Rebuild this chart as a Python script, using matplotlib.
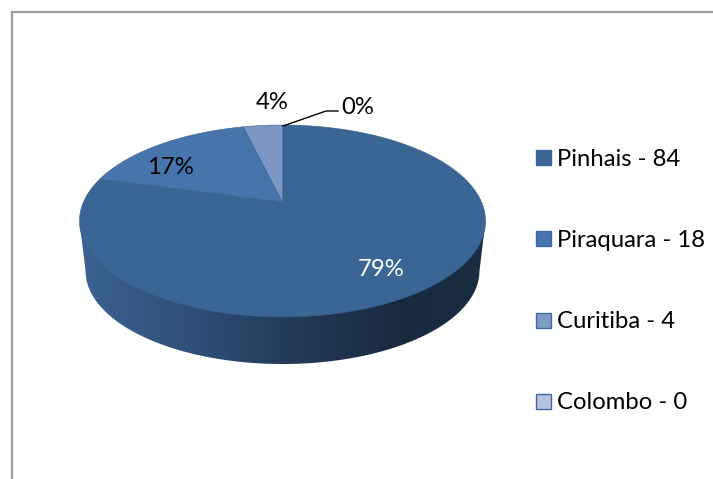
#Grafico de pizza 3D: Pinhais, Piraquara, Curitiba, Colombo

import numpy             as np
import matplotlib.pyplot as plt
from matplotlib.patches  import Polygon, Rectangle
from matplotlib.colors   import LinearSegmentedColormap

plt.rcParams['font.family'] = ['Lato', 'DejaVu Sans']

#Datos

cidades = ['Pinhais', 'Piraquara', 'Curitiba', 'Colombo']
valores = [84, 18, 4, 0]

cores_topo    = ['#3B6594', '#4774AC', '#7C97C3', '#B4C3DE']
cores_legenda = ['#3B6594', '#4774AC', '#7F9AC6', '#B4C3DE']

#Funciones de la perspectiva

K = 0.198
AX, AY = 199., 92.2
CX, CY = 282.5, 202.
PROF = 50.5
ESC_BASE = 0.97

def Proyecta(t, cy=CY, esc=1.):
    #t: angulo medido desde arriba en sentido horario
    x, y = np.sin(t), np.cos(t)
    w = 1 + K*y
    return CX + esc*AX*x/w, cy - esc*AY*y/w

fig = plt.figure(figsize=(7.13, 4.79), dpi=100)
ax = fig.add_axes([0, 0, 1, 1])
ax.set_xlim(0, 713)
ax.set_ylim(479, 0)
ax.axis('off')

#Marco

ax.plot([11.5, 11.5, 713], [479, 11.5, 11.5], color='#9A9A9A', linewidth=1.6, solid_joinstyle='miter')

#Lateral con degradado

t = np.linspace(0, 2*np.pi, 721)
xt, yt = Proyecta(t)
xb, yb = Proyecta(t, CY + PROF, ESC_BASE)

iz_t, de_t = np.argmin(xt), np.argmax(xt)
iz_b, de_b = np.argmin(xb), np.argmax(xb)

x_lat = np.r_[xt[de_t], xb[de_b:iz_b+1], xt[iz_t], xt[de_t]]
y_lat = np.r_[yt[de_t], yb[de_b:iz_b+1], yt[iz_t], yt[de_t]]
lateral = Polygon(np.c_[x_lat, y_lat], closed=True, facecolor='none', edgecolor='none')
ax.add_patch(lateral)

cmap = LinearSegmentedColormap.from_list('lateral', [
    (0.00, '#3B6291'), (0.28, '#2F4F78'), (0.50, '#243C5B'),
    (0.80, '#182A3F'), (1.00, '#1A2D43')])
grad = np.linspace(0, 1, 256).reshape(1, -1)
im = ax.imshow(grad, cmap=cmap, extent=[80, 487, 370, 200], aspect='auto', zorder=2)
im.set_clip_path(lateral)
ax.set_xlim(0, 713)
ax.set_ylim(479, 0)

#Cara superior

total = sum(valores)
acum = 0
for v, c in zip(valores, cores_topo):
    if v > 0:
        t0 = 2*np.pi*acum/total
        t1 = 2*np.pi*(acum + v)/total
        tt = np.linspace(t0, t1, 400)
        xw, yw = Proyecta(tt)
        pts = np.r_[[[CX, CY]], np.c_[xw, yw]]
        ax.add_patch(Polygon(pts, closed=True, facecolor=c, edgecolor='#3A5F8C', linewidth=0.4, zorder=3))
    acum += v

#Etiquetas de porcentaje

pct = ['%d%%' % round(100*v/total) for v in valores]
pos_pct = [(381, 269.5), (170, 167), (272.5, 102), (358, 107)]
cor_pct = ['white', 'black', 'black', 'black']
for s, p, c in zip(pct, pos_pct, cor_pct):
    ax.text(p[0], p[1], s, color=c, fontsize=17.2, ha='center', va='center', zorder=5)

ax.plot([283, 326, 338], [126, 111, 111], color='black', linewidth=1.0, zorder=4)

#Leyenda

ys_leg = [157.5, 238.5, 320, 401]
for nome, v, c, yl in zip(cidades, valores, cores_legenda, ys_leg):
    ax.add_patch(Rectangle((535.5, yl-7.5), 15, 15, facecolor=c, edgecolor='#3F6797', linewidth=1.0, zorder=3))
    ax.text(557, yl + 1.5, '%s - %d' % (nome, v), color='black', fontsize=17.2, ha='left', va='center', zorder=5)

plt.savefig('out.png', dpi=100)
